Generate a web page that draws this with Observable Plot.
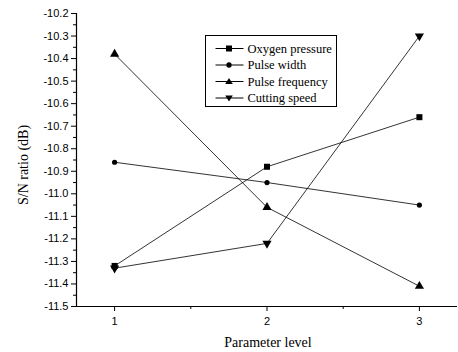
<!DOCTYPE html>
<html><head><meta charset="utf-8">
<script src="https://cdn.jsdelivr.net/npm/d3@7"></script>
<script src="https://cdn.jsdelivr.net/npm/@observablehq/plot@0.6"></script>
<style>
body{margin:0;background:#fff;}
</style></head>
<body><div id="wrap"></div>
<script>
const levels = [1, 2, 3];
const seriesNames = ["Oxygen pressure", "Pulse width", "Pulse frequency", "Cutting speed"];
const oxygenPressure = [-11.32, -10.88, -10.66];
const pulseWidth = [-10.86, -10.95, -11.05];
const pulseFrequency = [-10.38, -11.06, -11.41];
const cuttingSpeed = [-11.33, -11.22, -10.30];
const yTicks = [-10.2,-10.3,-10.4,-10.5,-10.6,-10.7,-10.8,-10.9,-11.0,-11.1,-11.2,-11.3,-11.4,-11.5];
const xTicks = [1, 2, 3];

const triangleDown = {
  draw(ctx, size) {
    const s = Math.sqrt(size / (Math.sqrt(3) / 4));
    const h = s * Math.sqrt(3) / 2;
    ctx.moveTo(0, h * 2 / 3);
    ctx.lineTo(s / 2, -h / 3);
    ctx.lineTo(-s / 2, -h / 3);
    ctx.closePath();
  }
};
const symbols = ["square", "circle", "triangle", triangleDown];
const allSeries = [oxygenPressure, pulseWidth, pulseFrequency, cuttingSpeed];
const data = [];
allSeries.forEach((vals, i) => vals.forEach((v, j) => data.push({series: seriesNames[i], level: levels[j], value: v})));

const xDomain = [0.75, 3.25];
const yDomain = [-11.5, -10.2];
const yMinor = d3.range(0, 13).map(i => -10.25 - i * 0.1);
const xMinor = [1.5, 2.5];

const marks = [
  Plot.ruleX([xDomain[0]], {stroke: "#000", strokeWidth: 1.2}),
  Plot.ruleY([yDomain[0]], {stroke: "#000", strokeWidth: 1.2}),
  Plot.axisY({ticks: yTicks, tickSize: 5, tickPadding: 3, tickFormat: d => d.toFixed(1), label: null,
    fontFamily: "Liberation Sans, Arial, sans-serif", fontSize: 11, stroke: "#000"}),
  Plot.axisY({ticks: yMinor, tickSize: 3, tickFormat: () => "", label: null}),
  Plot.axisX({ticks: xTicks, tickSize: 5, tickPadding: 6, tickFormat: d => String(d), label: null,
    fontFamily: "Liberation Sans, Arial, sans-serif", fontSize: 11}),
  Plot.axisX({ticks: xMinor, tickSize: 3, tickFormat: () => "", label: null})
];
seriesNames.forEach((name, i) => {
  const d = data.filter(r => r.series === name);
  marks.push(Plot.line(d, {x: "level", y: "value", stroke: "#000", strokeWidth: 0.8}));
  marks.push(Plot.dot(d, {x: "level", y: "value", symbol: () => symbols[i], fill: "#000", stroke: "none", r: i === 1 ? 2.6 : 3.4}));
});

const chart = Plot.plot({
  width: 458, height: 352,
  marginLeft: 76, marginRight: 1, marginTop: 13, marginBottom: 46,
  x: {domain: xDomain, label: null},
  y: {domain: yDomain, label: null},
  style: {background: "#fff", color: "#000"},
  marks
});
document.getElementById("wrap").appendChild(chart);

const serif = "'Liberation Serif', 'Times New Roman', Times, serif";
const svg = d3.select(chart);
svg.append("text").attr("x", 268).attr("y", 347).attr("text-anchor", "middle")
  .style("font-family", serif).style("font-size", "14px").text("Parameter level");
svg.append("text").attr("transform", "translate(28,165) rotate(-90)").attr("text-anchor", "middle")
  .style("font-family", serif).style("font-size", "14px").text("S/N ratio (dB)");

// legend (inside the plot, as in the reference)
const lg = svg.append("g").attr("transform", "translate(205.5,35.5)").attr("text-anchor", "start");
lg.append("rect").attr("width", 131).attr("height", 71).attr("fill", "#fff").attr("stroke", "#000").attr("stroke-width", 1);
const symPaths = [
  "M-3,-3h6v6h-6z",
  d3.symbol(d3.symbolCircle, 22)(),
  "M0,-3.6L3.8,2.6L-3.8,2.6Z",
  "M0,3.6L3.8,-2.6L-3.8,-2.6Z"
];
seriesNames.forEach((name, i) => {
  const cy = 13 + i * 16.5;
  lg.append("line").attr("x1", 10).attr("x2", 38).attr("y1", cy).attr("y2", cy).attr("stroke", "#000").attr("stroke-width", 1);
  lg.append("path").attr("transform", `translate(23.5,${cy})`).attr("d", symPaths[i]).attr("fill", "#000");
  lg.append("text").attr("x", 42).attr("y", cy).attr("dy", "0.35em").attr("text-anchor", "start")
    .style("font-family", serif).style("font-size", "12.5px").text(name);
});
</script></body></html>
